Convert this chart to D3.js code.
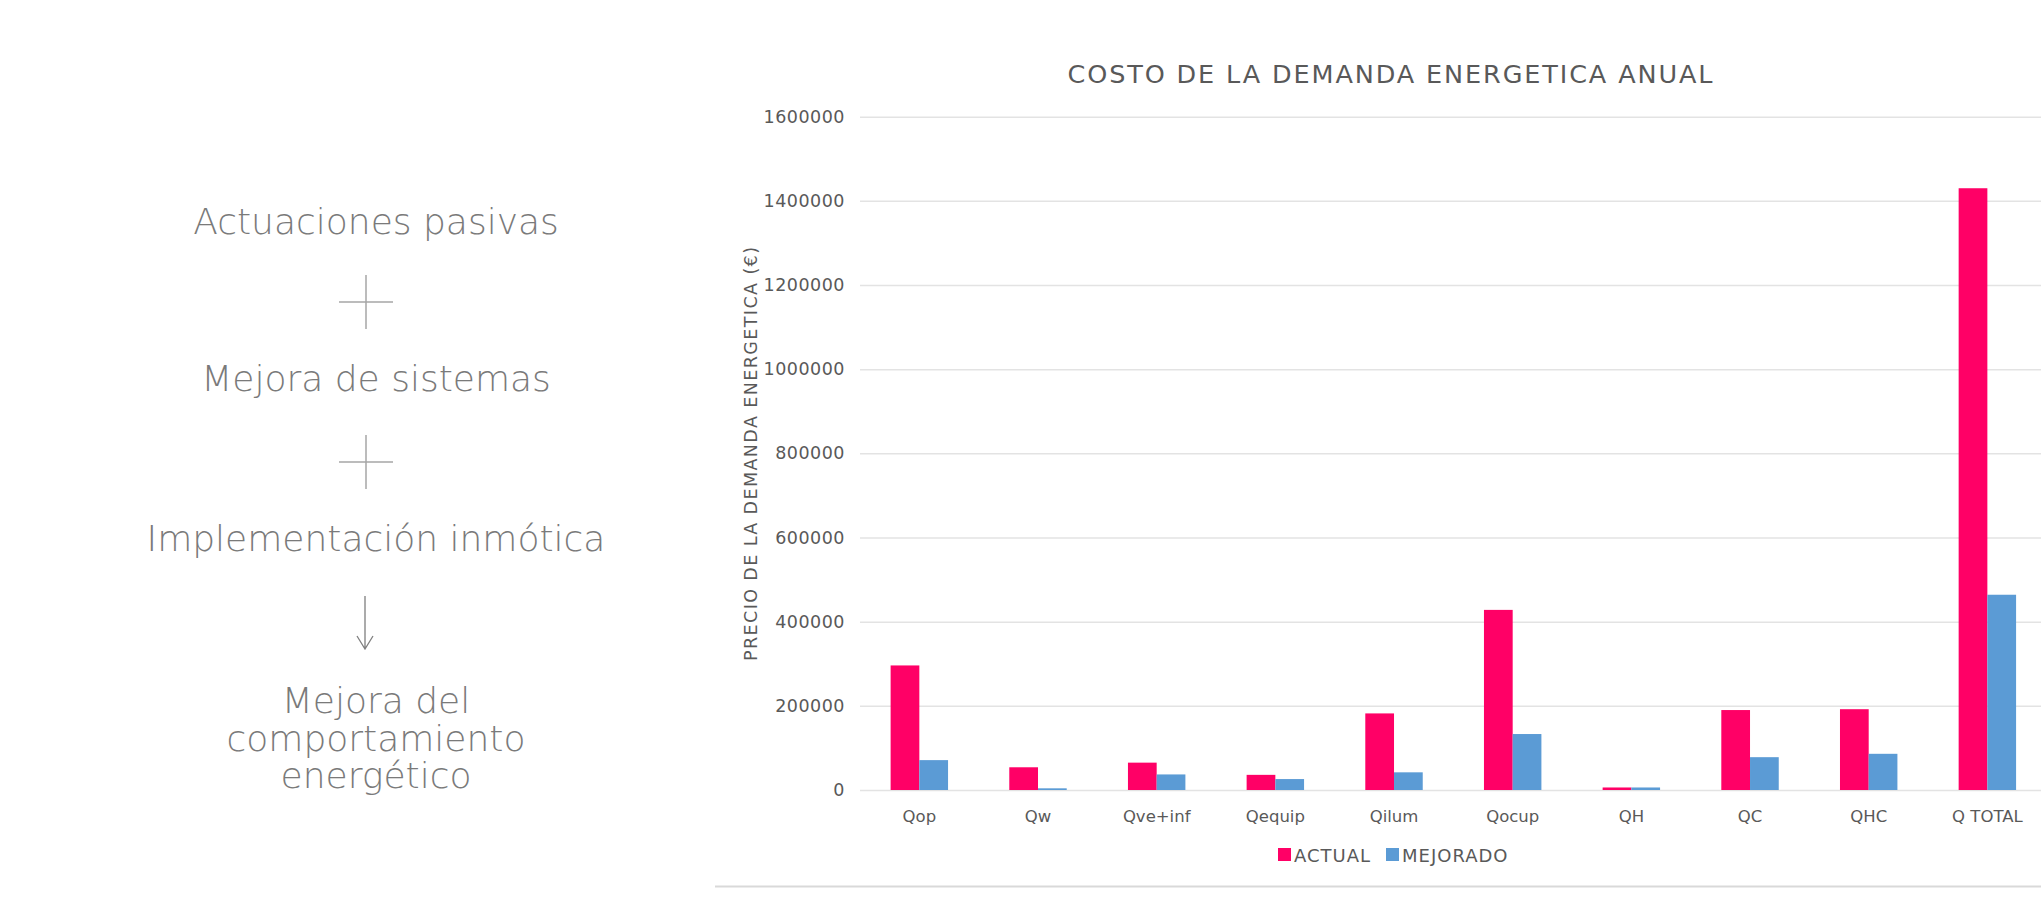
<!DOCTYPE html>
<head>
  <meta charset="utf-8">
  <script src="https://d3js.org/d3.v7.min.js"></script>
  <style>
    body { margin:0; background:#fff; }
    text { font-family: "DejaVu Sans", sans-serif; }
  </style>
</head>
<body>
<script>
  // values
  var categories = ["Qop", "Qw", "Qve+inf", "Qequip", "Qilum", "Qocup", "QH", "QC", "QHC", "Q TOTAL"]
  var actual = [296000, 54000, 65000, 36000, 182000, 428000, 6000, 190000, 192000, 1430000]
  var mejorado = [71000, 4000, 37000, 26000, 42000, 133000, 6000, 78000, 86000, 464000]
  var seriesNames = ["ACTUAL", "MEJORADO"]
  var yTicks = [0, 200000, 400000, 600000, 800000, 1000000, 1200000, 1400000, 1600000]
  var steps = ["Actuaciones pasivas", "Mejora de sistemas", "Implementación inmótica"]
  var result = ["Mejora del", "comportamiento", "energético"]

  var colors = ["#FF0066", "#5B9BD5"]

  var svg = d3.select("body")
    .append("svg")
    .attr("width", 2041)
    .attr("height", 897)

  svg.append("rect").attr("width", 2041).attr("height", 897).attr("fill", "#fff")

  // left column
  var left = svg.append("g").attr("fill", "#7a7a7a").attr("text-anchor", "middle")
  var stepY = [234, 391, 551]
  steps.forEach(function(s, i) {
    left.append("text")
      .attr("x", 376).attr("y", stepY[i])
      .attr("font-size", 36)
      .attr("font-weight", 300)
      .text(s)
  })
  var plusY = [302, 462]
  plusY.forEach(function(py) {
    left.append("line").attr("x1", 339).attr("x2", 393).attr("y1", py).attr("y2", py)
      .attr("stroke", "#a6a6a6").attr("stroke-width", 1.5)
    left.append("line").attr("x1", 366).attr("x2", 366).attr("y1", py - 27).attr("y2", py + 27)
      .attr("stroke", "#a6a6a6").attr("stroke-width", 1.5)
  })
  left.append("path")
    .attr("d", "M365,596 L365,649 M357,636 L365,649 L373,636")
    .attr("fill", "none").attr("stroke", "#7f7f7f").attr("stroke-width", 1.3)
  var resY = [713, 751, 788]
  result.forEach(function(s, i) {
    left.append("text")
      .attr("x", 376).attr("y", resY[i])
      .attr("font-size", 36)
      .attr("font-weight", 300)
      .text(s)
  })

  // chart
  var x = d3.scaleBand()
    .domain(categories)
    .range([860, 2046.7])
    .paddingInner(0.516)
    .paddingOuter(0.258)

  var x1 = d3.scaleBand()
    .domain(seriesNames)
    .range([0, x.bandwidth()])

  var y = d3.scaleLinear()
    .domain([0, 1600000])
    .range([790, 116.7])

  var yAxis = d3.axisLeft(y)
    .tickValues(yTicks)
    .tickSize(-(2041 - 860))
    .tickPadding(15)
    .tickFormat(d3.format("d"))

  svg.append("g")
    .attr("class", "y axis")
    .attr("transform", "translate(860,0)")
    .call(yAxis)
    .call(function(g) { g.select(".domain").remove() })
    .call(function(g) {
      g.selectAll("line").attr("stroke", "#e3e3e3").attr("stroke-width", 1.5)
      g.selectAll("text").attr("fill", "#595959").attr("font-size", 17.5)
        .style("font-family", "DejaVu Sans")
        .style("letter-spacing", "0.5px")
    })

  var rows = categories.map(function(c, i) {
    return { cat: c, vals: [actual[i], mejorado[i]] }
  })

  var groups = svg.selectAll(".grp").data(rows).enter()
    .append("g")
    .attr("class", "grp")
    .attr("transform", function(d) { return "translate(" + x(d.cat) + ",0)" })

  groups.selectAll("rect")
    .data(function(d) { return d.vals.map(function(v, j) { return { name: seriesNames[j], v: v, j: j } }) })
    .enter()
    .append("rect")
    .attr("x", function(d) { return x1(d.name) })
    .attr("y", function(d) { return y(d.v) })
    .attr("width", x1.bandwidth())
    .attr("height", function(d) { return y(0) - y(d.v) })
    .attr("fill", function(d) { return colors[d.j] })

  var xAxis = d3.axisBottom(x).tickSize(0).tickPadding(20)

  svg.append("g")
    .attr("class", "x axis")
    .attr("transform", "translate(0,790)")
    .call(xAxis)
    .call(function(g) { g.select(".domain").remove() })
    .call(function(g) {
      g.selectAll("text").attr("fill", "#595959").attr("font-size", 16.5)
        .style("font-family", "DejaVu Sans")
    })

  // title
  svg.append("text")
    .attr("x", 1390).attr("y", 83)
    .attr("text-anchor", "middle")
    .attr("font-size", 25.5)
    .attr("fill", "#595959")
    .attr("textLength", 645)
    .text("COSTO DE LA DEMANDA ENERGETICA ANUAL")

  // y axis title
  svg.append("text")
    .attr("transform", "translate(757,454) rotate(-90)")
    .attr("text-anchor", "middle")
    .attr("font-size", 17.5)
    .attr("fill", "#595959")
    .attr("textLength", 414)
    .text("PRECIO DE LA DEMANDA ENERGETICA (€)")

  // legend
  var legX = [1278, 1386]
  var legend = svg.selectAll(".leg").data(seriesNames).enter()
    .append("g")
    .attr("class", "leg")
    .attr("transform", function(d, i) { return "translate(" + legX[i] + ",848)" })
  legend.append("rect")
    .attr("width", 13).attr("height", 13)
    .attr("fill", function(d, i) { return colors[i] })
  legend.append("text")
    .attr("x", 16).attr("y", 13.5)
    .attr("font-size", 18)
    .attr("fill", "#595959")
    .style("letter-spacing", "1px")
    .text(function(d) { return d })

  // bottom rule
  svg.append("line")
    .attr("x1", 715).attr("x2", 2041).attr("y1", 886.5).attr("y2", 886.5)
    .attr("stroke", "#d9d9d9").attr("stroke-width", 2)
</script>
</body>
